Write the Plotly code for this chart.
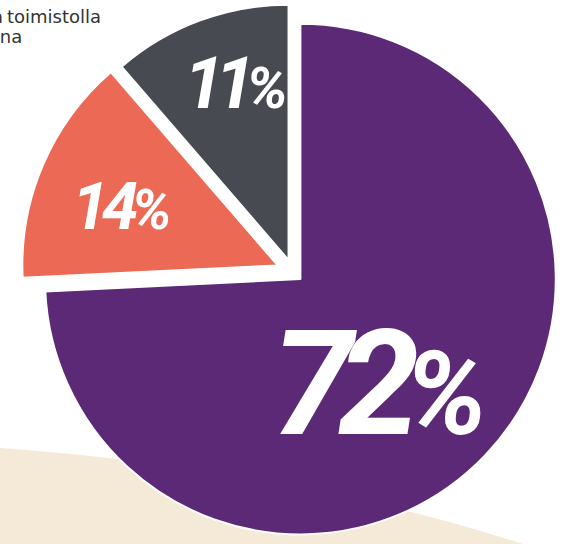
import plotly.graph_objects as go

# Data
labels = ["Etänä", "Toimistolla", "Vuorotellen kotona ja toimistolla"]
values = [72, 14, 11]
colors = ["#5C2976", "#EC6A55", "#474A51"]
pulls = [0.04, 0.065, 0.05]
digit_sizes = [146, 66, 72]
pct_sizes = [116, 56, 58]
spacings = [-15, -7, -9]

W, H = 574, 544

def px(x):
    return x / W

def py(y):
    return 1 - y / H

fig = go.Figure()
fig.add_trace(go.Pie(
    labels=labels,
    values=values,
    sort=False,
    direction="clockwise",
    rotation=0,
    pull=pulls,
    marker=dict(colors=colors, line=dict(color="white", width=2)),
    textinfo="none",
    hoverinfo="label+percent",
    showlegend=False,
    domain=dict(x=[0.0366, 0.9843], y=[0.0, 1.0]),
))

# label positions (pixel centres) for each slice
label_pos = [(380, 384), (122, 206), (236, 83)]
annotations = []
for v, (lx, ly), ds, ps, sp in zip(values, label_pos, digit_sizes, pct_sizes, spacings):
    annotations.append(dict(
        text=(f"<span style='letter-spacing:{sp}px'>{v}</span>"
              f"<span style='font-size:{ps}px'>%</span>"),
        x=px(lx), y=py(ly), xref="paper", yref="paper",
        xanchor="center", yanchor="middle", showarrow=False,
        font=dict(family="Roboto, Open Sans", size=ds,
                  color="white", weight="bold", style="italic"),
    ))

caption_font = dict(family="DejaVu Sans, Open Sans", size=18, color="#333333")
annotations.append(dict(
    text="toimistolla", x=px(103), y=py(16), xref="paper", yref="paper",
    xanchor="right", yanchor="middle", showarrow=False, font=caption_font,
))
annotations.append(dict(
    text="ja", x=px(5), y=py(16), xref="paper", yref="paper",
    xanchor="right", yanchor="middle", showarrow=False, font=caption_font,
))
annotations.append(dict(
    text="kotona", x=px(24), y=py(37), xref="paper", yref="paper",
    xanchor="right", yanchor="middle", showarrow=False, font=caption_font,
))

# beige background wave
path = (f"M {px(0)},{py(448)} "
        f"Q {px(300)},{py(470)} {px(535)},{py(548)} "
        f"L {px(0)},{py(548)} Z")

fig.update_layout(
    width=W, height=H,
    margin=dict(l=0, r=0, t=0, b=0),
    paper_bgcolor="white",
    plot_bgcolor="white",
    annotations=annotations,
    shapes=[dict(type="path", path=path, xref="paper", yref="paper",
                 fillcolor="#F5E9D8", line=dict(width=0), layer="below")],
)

fig.write_html("out.html")
